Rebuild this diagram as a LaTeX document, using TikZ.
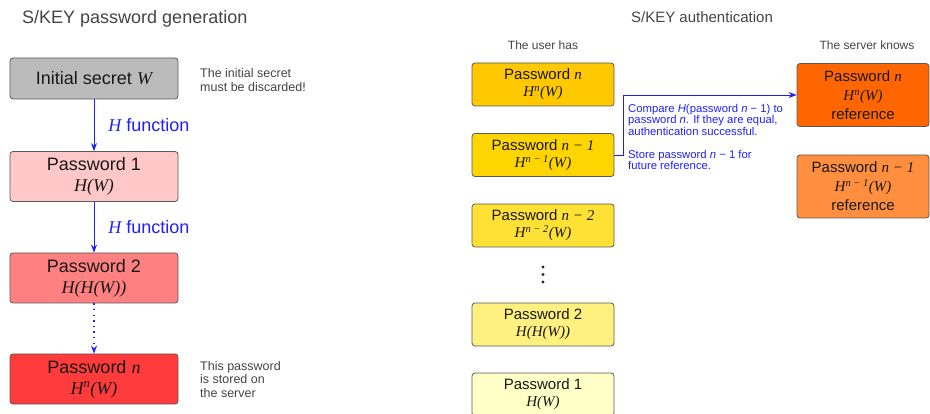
\documentclass[tikz,border=0pt]{standalone}
\usepackage{fontspec}
\setmainfont{Liberation Sans}
\newfontfamily\serfont{Liberation Serif}
\usetikzlibrary{arrows.meta, positioning}
\newcommand{\sit}[1]{{\serfont\itshape #1}}
\newcommand{\sz}[2]{\fontsize{#1}{#2}\selectfont}
\definecolor{genGrey}{HTML}{BBBBBB}
\definecolor{genOne}{HTML}{FFC8C8}
\definecolor{genTwo}{HTML}{FF8080}
\definecolor{genN}{HTML}{FF3B3B}
\definecolor{usrN}{HTML}{FFC800}
\definecolor{usrNa}{HTML}{FFD500}
\definecolor{usrNb}{HTML}{FFE135}
\definecolor{usrTwo}{HTML}{FFF080}
\definecolor{usrOne}{HTML}{FFFFC8}
\definecolor{srvN}{HTML}{FF6600}
\definecolor{srvNa}{HTML}{FF8F3F}
\definecolor{noteGrey}{HTML}{444444}
\definecolor{linkBlue}{HTML}{2020FF}
\tikzset{
	box/.style={shape=rectangle,draw=black!65,line width=0.8pt,rounded corners=3pt,align=center,text=black!90},
	gen-box/.style={box,minimum width=168pt,minimum height=50pt,font=\sz{18}{21}},
	user-box/.style={box,minimum width=142pt,minimum height=43pt,font=\sz{15}{17}},
	server-box/.style={box,minimum width=132pt,minimum height=63pt,font=\sz{15}{19}},
	note/.style={align=left,text=noteGrey,inner sep=0pt,font=\sz{12.5}{13.5}},
	head/.style={text=noteGrey,inner sep=0pt},
	h-label/.style={text=linkBlue,inner sep=0pt,font=\sz{18}{20}},
}
\tikzstyle{arrow} = [line width=0.8pt,draw=linkBlue,->,>={Stealth[length=8pt,width=6pt]}]

\begin{document}
\begin{tikzpicture}[x=1pt,y=-1pt]
	\useasboundingbox (0,0) rectangle (930,414);
	\clip (0,0) rectangle (930,414);

	% password generation
	\node[head,anchor=west,font=\sz{18}{20}] (gen-title) at (22,19) {S/KEY password generation};
	\node[gen-box,fill=genGrey,minimum height=41pt] (init) at (94,78.5) {Initial secret \sit{W}};
	\node[gen-box,fill=genOne] (gen-1) at (94,176.5) {Password 1\\\sit{H(W)}};
	\node[gen-box,fill=genTwo] (gen-2) at (94,278) {Password 2\\\sit{H(H(W))}};
	\node[gen-box,fill=genN] (gen-n) at (94,379) {Password \sit{n}\\\sit{H\textsuperscript{n}(W)}};

	\draw[arrow] (init) -- (gen-1) node[h-label,midway,right=14pt] {\sit{H} function};
	\draw[arrow] (gen-1) -- (gen-2) node[h-label,midway,right=14pt] {\sit{H} function};
	\draw[arrow,line width=1.3pt,dash pattern=on 1.4pt off 4.2pt] (gen-2) -- (gen-n);

	\node[note,anchor=west] (note-init) at (200,80) {The initial secret\\must be discarded!};
	\node[note,anchor=west] (note-n) at (200,379.5) {This password\\is stored on\\the server};

	% authentication
	\node[head,font=\sz{15}{17}] (auth-title) at (702,17) {S/KEY authentication};
	\node[head,font=\sz{12}{14}] (user-head) at (543,45) {The user has};
	\node[head,font=\sz{12}{14}] (srv-head) at (867,45) {The server knows};

	\node[user-box,fill=usrN] (usr-n) at (543,84.5) {Password \sit{n}\\\sit{H\textsuperscript{n}(W)}};
	\node[user-box,fill=usrNa] (usr-n1) at (543,155) {Password \sit{n − 1}\\\sit{H\textsuperscript{n − 1}(W)}};
	\node[user-box,fill=usrNb] (usr-n2) at (543,225.5) {Password \sit{n − 2}\\\sit{H\textsuperscript{n − 2}(W)}};
	\foreach \y in {267,274.5,282}
		\fill[black!85] (543,\y) circle (1.7);
	\node[user-box,fill=usrTwo] (usr-2) at (543,324.5) {Password 2\\\sit{H(H(W))}};
	\node[user-box,fill=usrOne] (usr-1) at (543,394.5) {Password 1\\\sit{H(W)}};

	\node[server-box,fill=srvN] (srv-n) at (863,95) {Password \sit{n}\\\sit{H\textsuperscript{n}(W)}\\reference};
	\node[server-box,fill=srvNa] (srv-n1) at (863,186.5) {Password \sit{n − 1}\\\sit{H\textsuperscript{n − 1}(W)}\\reference};

	\draw[arrow] (usr-n1.east) -- ++(9,0) |- (srv-n.west);

	\node[note,text=linkBlue,font=\sz{11.3}{11.5},anchor=north west] (cmp-note) at (628,104)
		{Compare \textit{H}(password \textit{n} − 1) to\\password \textit{n}. If they are equal,\\authentication successful.};
	\node[note,text=linkBlue,font=\sz{11.3}{11.5},anchor=north west] (store-note) at (628,150)
		{Store password \textit{n} − 1 for\\future reference.};
\end{tikzpicture}
\end{document}
